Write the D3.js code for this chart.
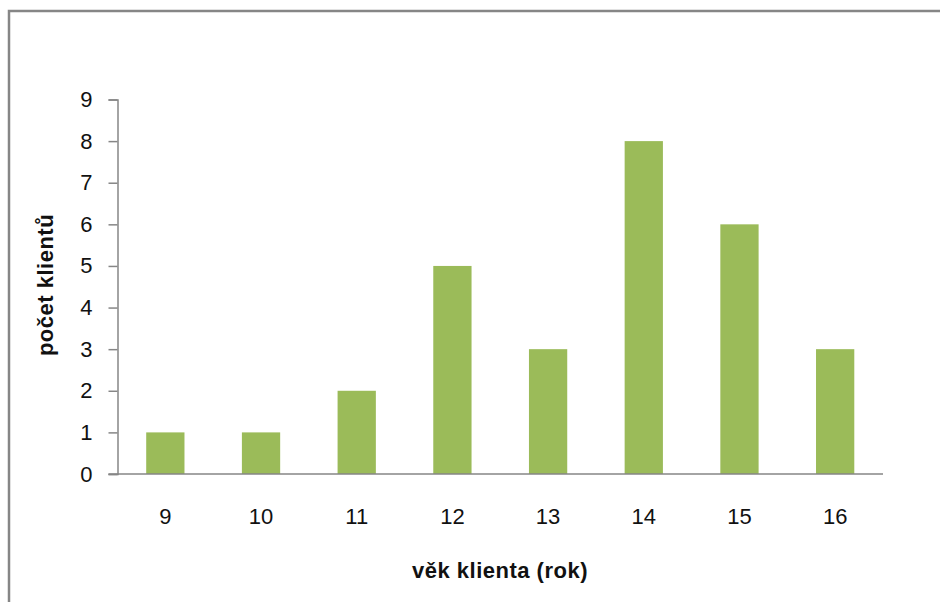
<!DOCTYPE html>
<html>
<head>
<meta charset="utf-8">
<script src="https://cdn.jsdelivr.net/npm/d3@7"></script>
<style>
  html, body { margin: 0; padding: 0; background: #fff; }
  svg { display: block; }
</style>
</head>
<body>
<script>
const categories = ["9", "10", "11", "12", "13", "14", "15", "16"];
const values = [1, 1, 2, 5, 3, 8, 6, 3];
const yTicks = [0, 1, 2, 3, 4, 5, 6, 7, 8, 9];
const xTitle = "věk klienta (rok)";
const yTitle = "počet klientů";

(function () {
const W = 940, H = 602;
const svg = d3.select("body").append("svg").attr("width", W).attr("height", H);
svg.append("rect").attr("width", W).attr("height", H).attr("fill", "#fff");

// outer frame (cropped at right and bottom)
svg.append("path")
  .attr("d", "M9,604 V11 H942")
  .attr("fill", "none").attr("stroke", "#868686").attr("stroke-width", 2.5);

const pLeft = 117.5, pRight = 883, pTop = 99.5, pBottom = 474;

const x = d3.scaleBand().domain(categories).range([pLeft, pRight]).paddingInner(0.6).paddingOuter(0.3);
const y = d3.scaleLinear().domain([0, 9]).range([pBottom, pTop]);

const font = "'Liberation Sans', Arial, sans-serif";

// bars
svg.append("g").selectAll("rect").data(values).join("rect")
  .attr("x", (d, i) => x(categories[i]))
  .attr("y", d => y(d))
  .attr("width", x.bandwidth())
  .attr("height", d => y(0) - y(d))
  .attr("fill", "#9BBB59");

// y axis
const yAxis = d3.axisLeft(y).tickValues(yTicks).tickSize(9).tickPadding(16).tickFormat(d3.format("d"));
const gy = svg.append("g").attr("transform", `translate(${pLeft},0)`).call(yAxis);
gy.select(".domain").attr("stroke", "#868686").attr("stroke-width", 1.5);
gy.selectAll(".tick line").attr("stroke", "#868686").attr("stroke-width", 1.5);
gy.selectAll(".tick text").attr("font-family", font).attr("font-size", 22).attr("fill", "#111");

// x axis
const xAxis = d3.axisBottom(x).tickSize(0).tickPadding(34);
const gx = svg.append("g").attr("transform", `translate(0,${pBottom})`).call(xAxis);
gx.select(".domain").attr("d", `M${pLeft - 9},0H${pRight}`).attr("stroke", "#868686").attr("stroke-width", 1.5);
gx.selectAll(".tick text").attr("font-family", font).attr("font-size", 22).attr("fill", "#111");

// titles
svg.append("text").attr("x", 500).attr("y", 578).attr("text-anchor", "middle")
  .attr("font-family", font).attr("font-weight", "bold").attr("font-size", 22)
  .attr("letter-spacing", 0.5)
  .attr("fill", "#111").text(xTitle);
svg.append("text").attr("transform", "translate(53,285) rotate(-90)").attr("text-anchor", "middle")
  .attr("font-family", font).attr("font-weight", "bold").attr("font-size", 22)
  .attr("letter-spacing", 0.5)
  .attr("fill", "#111").text(yTitle);
})();
</script>
</body>
</html>
